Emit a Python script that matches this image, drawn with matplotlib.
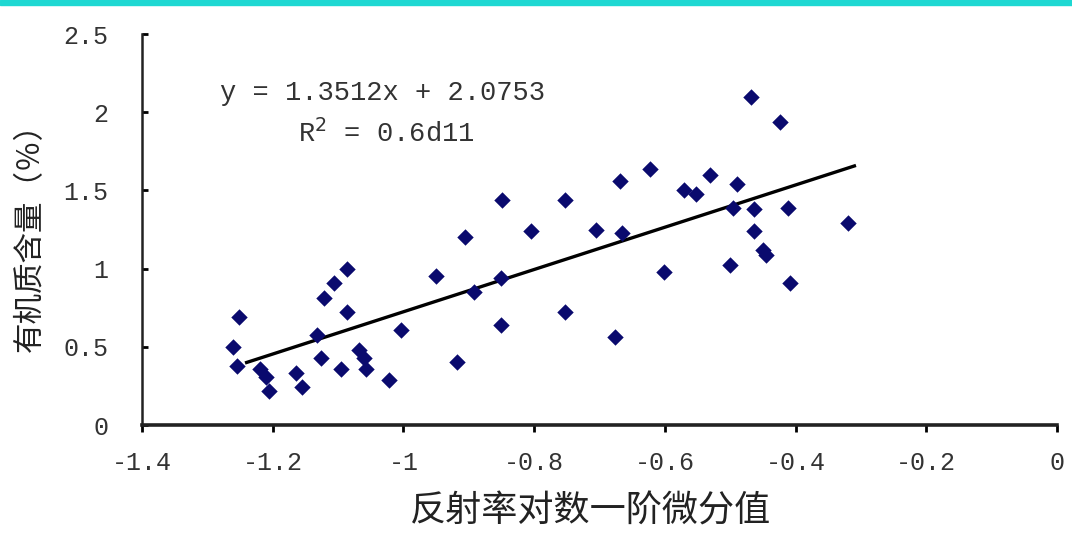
import matplotlib.pyplot as plt
import matplotlib.ticker as mticker
import numpy as np

plt.rcParams['font.family'] = ['Noto Sans CJK SC', 'DejaVu Sans']

# 反射率对数一阶微分值 (x) 与有机质含量 % (y)
deriv = [-1.261, -1.251, -1.254, -1.220, -1.210, -1.205, -1.164, -1.156,
         -1.133, -1.121, -1.106, -1.087, -1.087, -1.126, -1.095, -1.068,
         -1.060, -1.057, -1.022, -1.004, -0.950, -0.918, -0.892, -0.906,
         -0.851, -0.851, -0.849, -0.805, -0.753, -0.753, -0.706, -0.676,
         -0.668, -0.665, -0.622, -0.602, -0.570, -0.552, -0.531, -0.500,
         -0.496, -0.490, -0.468, -0.464, -0.464, -0.450, -0.445, -0.424,
         -0.412, -0.409, -0.320]
organic = [0.50, 0.69, 0.38, 0.36, 0.31, 0.22, 0.33, 0.24,
           0.575, 0.81, 0.91, 1.00, 0.72, 0.43, 0.36, 0.48,
           0.43, 0.36, 0.29, 0.61, 0.95, 0.40, 0.85, 1.20,
           0.94, 0.64, 1.44, 1.24, 1.44, 0.72, 1.25, 0.56,
           1.56, 1.23, 1.64, 0.98, 1.50, 1.48, 1.60, 1.02,
           1.39, 1.54, 2.10, 1.38, 1.24, 1.12, 1.09, 1.94,
           1.39, 0.91, 1.29]

slope, intercept = 1.3512, 2.0753
fit_x = [-1.24, -0.31]

fig = plt.figure(figsize=(10.72, 5.33), dpi=100, facecolor='white')
# 顶部青色装饰条
fig.add_artist(plt.Rectangle((0, 0.99), 1, 0.01, transform=fig.transFigure,
                             color='#1ED8D2', zorder=0))

ax = fig.add_axes([0.1325, 0.2026, 0.8535, 0.7336])
ax.scatter(deriv, organic, marker='D', s=70, color='#0A0A6E', zorder=3, linewidths=0)
fx = np.array(fit_x)
ax.plot(fx, slope * fx + intercept, color='black', lw=2.4, zorder=2)

ax.set_xlim(-1.4, 0)
ax.set_ylim(0, 2.5)
ax.set_xticks(np.arange(-1.4, 0.01, 0.2))
ax.set_yticks(np.arange(0, 2.51, 0.5))


def tick_fmt(v, pos):
    v = round(v, 1)
    if abs(v) < 1e-9:
        return '0'
    return '%g' % v


fmt = mticker.FuncFormatter(tick_fmt)
ax.xaxis.set_major_formatter(fmt)
ax.yaxis.set_major_formatter(fmt)

for s in ['top', 'right']:
    ax.spines[s].set_visible(False)
ax.spines['left'].set_linewidth(1.8)
ax.spines['bottom'].set_linewidth(2.6)
ax.spines['left'].set_color('#222222')
ax.spines['bottom'].set_color('#222222')

ax.tick_params(axis='y', direction='in', length=4, width=2, pad=24,
               labelsize=18, labelcolor='#333333')
ax.tick_params(axis='x', direction='out', length=5, width=2, pad=14,
               labelsize=18, labelcolor='#333333')
for lab in ax.get_xticklabels() + ax.get_yticklabels():
    lab.set_family('Liberation Mono')

ax.set_xlabel('反射率对数一阶微分值', fontsize=26, color='#222222', labelpad=2)
ax.set_ylabel('有机质含量（％）', fontsize=22, color='#222222', labelpad=4)
ax.xaxis.set_label_coords(0.49, -0.175)
ax.yaxis.set_label_coords(-0.105, 0.5)

ax.text(0.085, 0.85, 'y = 1.3512x + 2.0753', transform=ax.transAxes,
        family='Liberation Mono', fontsize=19.5, color='#333333', va='center')
ax.text(0.17, 0.745, 'R$^2$ = 0.6d11', transform=ax.transAxes,
        family='Liberation Mono', fontsize=19.5, color='#333333', va='center')

fig.savefig('out.png', dpi=100, facecolor='white')
